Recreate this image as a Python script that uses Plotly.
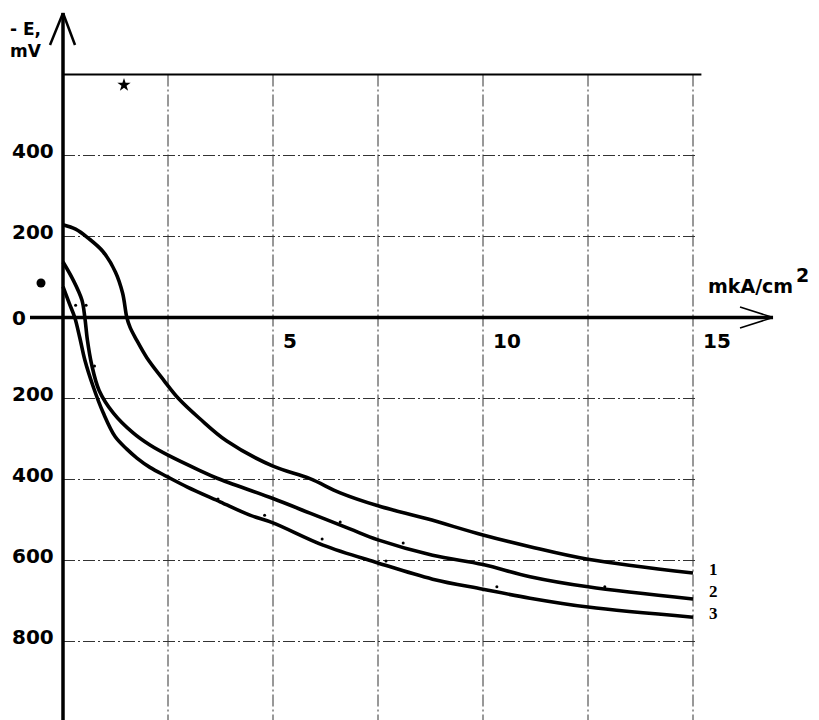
import plotly.graph_objects as go

# ---- data ----
c1_x = [0, 0.3, 0.6, 0.95, 1.25, 1.42, 1.52, 1.6, 1.75, 2.0, 2.4, 2.75, 3.26, 3.9, 5.0, 5.88, 6.6, 7.5, 8.67, 10.0, 11.12, 12.5, 15.0]
c1_y = [229, 218, 196, 163, 112, 60, 0, -25, -55, -100, -155, -200, -250, -305, -367, -398, -433, -465, -497, -537, -566, -597, -631]

c2_x = [0, 0.24, 0.45, 0.52, 0.58, 0.68, 0.86, 1.2, 1.67, 2.07, 2.5, 3.26, 3.67, 5.0, 5.88, 6.83, 7.5, 8.8, 10.0, 11.12, 12.5, 15.0]
c2_y = [137, 93, 43, 0, -55, -115, -180, -236, -285, -315, -340, -378, -397, -447, -483, -522, -549, -587, -610, -640, -665, -695]

c3_x = [0, 0.15, 0.28, 0.4, 0.52, 0.72, 0.96, 1.24, 1.52, 1.76, 2.07, 2.48, 2.95, 3.74, 4.45, 5.0, 6.19, 7.5, 8.8, 10.0, 11.12, 12.5, 15.0]
c3_y = [76, 35, 0, -50, -105, -171, -236, -294, -325, -347, -370, -393, -418, -455, -488, -507, -562, -606, -646, -671, -693, -715, -740]

curve_names = ["1", "2", "3"]

dots_x = [0.3, 0.55, 0.75, 3.69, 4.8, 6.6, 6.17, 8.1, 7.69, 10.33, 12.9]
dots_y = [30, 30, -120, -448, -488, -505, -547, -557, -601, -665, -665]

x_grid = [2.5, 5, 7.5, 10, 12.5, 15]
y_grid = [400, 200, -200, -400, -600, -800]
y_tick_vals = [400, 200, 0, -200, -400, -600, -800]
y_tick_text = ["400", "200", "0", "200", "400", "600", "800"]
x_tick_vals = [5, 10, 15]
x_tick_text = ["5", "10", "15"]
top_line = 600

# ---- pixel <-> data helpers for layout placement (page pixels) ----
X0_PX, X_SCALE = 63.0, 42.0       # page px of x=0, px per unit
Y0_PX, Y_SCALE = 317.5, 0.405     # page px of y=0, px per mV
def xd(px):
    return (px - X0_PX) / X_SCALE
def yd(py):
    return (Y0_PX - py) / Y_SCALE

PAGE_W, PAGE_H, BODY = 819, 720, 8   # browser body margin offsets the figure
W, H = PAGE_W - BODY, PAGE_H - BODY
fig = go.Figure()

shapes = []
grid_line = dict(color="#333333", width=1, dash="12px,3px,2px,3px")
for gx in x_grid:
    shapes.append(dict(type="line", xref="x", yref="y", x0=gx, x1=gx,
                       y0=top_line, y1=yd(PAGE_H), line=grid_line, layer="below"))
for gy in y_grid:
    shapes.append(dict(type="line", xref="x", yref="y", x0=0, x1=15.1,
                       y0=gy, y1=gy, line=grid_line, layer="below"))
shapes.append(dict(type="line", xref="x", yref="y", x0=0, x1=15.2,
                   y0=top_line, y1=top_line, line=dict(color="black", width=2)))
axis_line = dict(color="black", width=3.5)
shapes.append(dict(type="line", xref="x", yref="y", x0=0, x1=0,
                   y0=yd(PAGE_H), y1=yd(13), line=axis_line))
shapes.append(dict(type="line", xref="x", yref="y", x0=xd(30), x1=xd(773),
                   y0=0, y1=0, line=axis_line))
arrow = dict(color="black", width=2.5)
shapes.append(dict(type="line", xref="x", yref="y", x0=0, y0=yd(13), x1=xd(50), y1=yd(45), line=arrow))
shapes.append(dict(type="line", xref="x", yref="y", x0=0, y0=yd(13), x1=xd(75), y1=yd(45), line=arrow))
thin_arrow = dict(color="black", width=1.5)
shapes.append(dict(type="line", xref="x", yref="y", x0=xd(773), y0=0, x1=xd(740), y1=yd(307), line=thin_arrow))
shapes.append(dict(type="line", xref="x", yref="y", x0=xd(773), y0=0, x1=xd(740), y1=yd(328), line=thin_arrow))

for cx, cy, nm in [(c1_x, c1_y, curve_names[0]), (c2_x, c2_y, curve_names[1]), (c3_x, c3_y, curve_names[2])]:
    fig.add_trace(go.Scatter(x=cx, y=cy, mode="lines", name=nm,
                             line=dict(color="black", width=3.6, shape="spline", smoothing=1.0),
                             hoverinfo="skip"))

fig.add_trace(go.Scatter(x=dots_x, y=dots_y, mode="markers",
                         marker=dict(color="black", size=3), hoverinfo="skip"))
fig.add_trace(go.Scatter(x=[xd(41)], y=[yd(283)], mode="markers",
                         marker=dict(color="black", size=9), hoverinfo="skip"))
fig.add_trace(go.Scatter(x=[xd(124)], y=[yd(85)], mode="markers",
                         marker=dict(color="black", size=10, symbol="star"), hoverinfo="skip"))

ann = []
sans = dict(family="DejaVu Sans", size=20, color="black", weight="bold")
for v, t in zip(y_tick_vals, y_tick_text):
    ann.append(dict(x=xd(10), y=v, text=t, xref="x", yref="y", showarrow=False,
                    xanchor="left", yanchor="middle", yshift=5 if v != 0 else 0, font=sans))
for v, t in zip(x_tick_vals, x_tick_text):
    ann.append(dict(x=v, y=0, text=t, xref="x", yref="y", showarrow=False,
                    xanchor="left", yanchor="middle", xshift=8, yshift=-23, font=sans))
unit_font = dict(family="DejaVu Sans", size=19, color="black", weight="bold")
ann.append(dict(x=xd(706), y=yd(286), text="mkA/cm", xref="x", yref="y", showarrow=False,
                xanchor="left", yanchor="middle", font=unit_font))
ann.append(dict(x=xd(794), y=yd(275), text="2", xref="x", yref="y", showarrow=False,
                xanchor="left", yanchor="middle", font=unit_font))
ann.append(dict(x=xd(8), y=yd(40), text="- E,<br>mV", xref="x", yref="y", showarrow=False,
                xanchor="left", yanchor="middle", align="left",
                font=dict(family="DejaVu Sans", size=17, color="black", weight="bold")))
serif = dict(family="Liberation Serif", size=17, color="black", weight="bold")
ann.append(dict(x=15, y=c2_y[-1], text="<br>".join(curve_names), xref="x", yref="y",
                showarrow=False, xanchor="left", yanchor="middle", align="left",
                xshift=14, yshift=7, font=serif))

fig.update_layout(
    width=W, height=H, margin=dict(l=0, r=0, t=0, b=0),
    paper_bgcolor="white", plot_bgcolor="white", showlegend=False,
    xaxis=dict(range=[xd(BODY), xd(PAGE_W)], visible=False, fixedrange=True),
    yaxis=dict(range=[yd(PAGE_H), yd(BODY)], visible=False, fixedrange=True),
    shapes=shapes, annotations=ann,
)
fig.write_html("out.html", config={"displayModeBar": False})
